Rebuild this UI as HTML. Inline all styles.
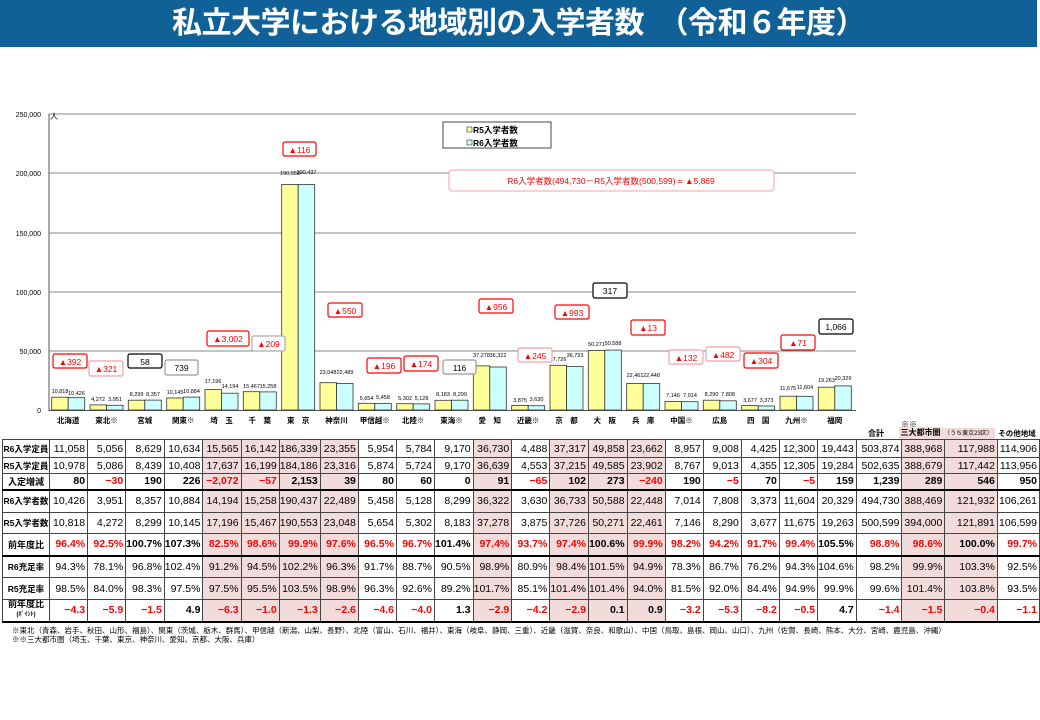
<!DOCTYPE html>
<html><head><meta charset="utf-8"><style>
body{margin:0;width:1040px;height:720px;background:#fff;position:relative;overflow:hidden;font-family:"Liberation Sans","Noto Sans CJK JP",sans-serif}
.title{position:absolute;left:0;top:0;width:1037px;height:47px;background:#0f6198;color:#fff;font-weight:bold;font-size:30px;line-height:47px;text-align:center;font-family:"Liberation Sans","Noto Sans CJK JP",sans-serif;letter-spacing:-0.5px}
table{position:absolute;left:2px;top:439px;border-collapse:collapse;table-layout:fixed;font-size:10.5px}
td{border:1px solid #444;text-align:right;padding:0 2px 0 0;white-space:nowrap;overflow:hidden;color:#000}
td.l{text-align:center;font-size:8.5px;font-weight:bold;padding:0}
tr.t td{border-bottom:2px solid #000}
.p{background:#f2dcdb}
.r{color:#f00}
.b td{font-weight:bold}
.b td.l{font-size:9px}
.hd{position:absolute;font-size:8px;font-weight:bold;text-align:center}
.note{position:absolute;left:12px;font-size:7.5px;color:#000}
</style></head><body>
<div class="title">私立大学における地域別の入学者数　（令和６年度）</div>
<svg width="1040" height="440" style="position:absolute;left:0;top:0" font-family="Liberation Sans, Noto Sans CJK JP, sans-serif">
<g stroke="#888" stroke-width="1">
<line x1="49" y1="114" x2="856" y2="114"/><line x1="49" y1="173" x2="856" y2="173"/><line x1="49" y1="233" x2="856" y2="233"/><line x1="49" y1="292" x2="856" y2="292"/><line x1="49" y1="351" x2="856" y2="351"/>
</g>
<line x1="49" y1="114" x2="49" y2="411" stroke="#555"/>
<line x1="49" y1="410.5" x2="856" y2="410.5" stroke="#555"/>
<g font-size="7" text-anchor="end" fill="#000">
<text x="41" y="117">250,000</text><text x="41" y="176">200,000</text><text x="41" y="236">150,000</text><text x="41" y="295">100,000</text><text x="41" y="354">50,000</text><text x="41" y="413">0</text>
</g>
<text x="50" y="119" font-size="8">人</text>
<g transform="translate(0,410) scale(1,-1)" stroke="#333" stroke-width="0.8">
<g fill="#ffff99">
<rect x="51.7" y="0" width="16.5" height="12.8"/><rect x="90" y="0" width="16.5" height="5.1"/><rect x="128.3" y="0" width="16.5" height="9.8"/><rect x="166.7" y="0" width="16.5" height="12"/><rect x="205" y="0" width="16.5" height="20.4"/><rect x="243.3" y="0" width="16.5" height="18.3"/><rect x="281.7" y="0" width="16.5" height="225.6"/><rect x="320" y="0" width="16.5" height="27.3"/><rect x="358.3" y="0" width="16.5" height="6.7"/><rect x="396.7" y="0" width="16.5" height="6.3"/><rect x="435" y="0" width="16.5" height="9.7"/><rect x="473.3" y="0" width="16.5" height="44.1"/><rect x="511.7" y="0" width="16.5" height="4.6"/><rect x="550" y="0" width="16.5" height="44.7"/><rect x="588.3" y="0" width="16.5" height="59.5"/><rect x="626.7" y="0" width="16.5" height="26.6"/><rect x="665" y="0" width="16.5" height="8.5"/><rect x="703.3" y="0" width="16.5" height="9.8"/><rect x="741.7" y="0" width="16.5" height="4.4"/><rect x="780" y="0" width="16.5" height="13.8"/><rect x="818.3" y="0" width="16.5" height="22.8"/>
</g>
<g fill="#ccffff">
<rect x="68.2" y="0" width="16.5" height="12.3"/><rect x="106.5" y="0" width="16.5" height="4.7"/><rect x="144.8" y="0" width="16.5" height="9.9"/><rect x="183.2" y="0" width="16.5" height="12.9"/><rect x="221.5" y="0" width="16.5" height="16.8"/><rect x="259.8" y="0" width="16.5" height="18.1"/><rect x="298.2" y="0" width="16.5" height="225.5"/><rect x="336.5" y="0" width="16.5" height="26.6"/><rect x="374.8" y="0" width="16.5" height="6.5"/><rect x="413.2" y="0" width="16.5" height="6.1"/><rect x="451.5" y="0" width="16.5" height="9.8"/><rect x="489.8" y="0" width="16.5" height="43"/><rect x="528.2" y="0" width="16.5" height="4.3"/><rect x="566.5" y="0" width="16.5" height="43.5"/><rect x="604.8" y="0" width="16.5" height="59.9"/><rect x="643.2" y="0" width="16.5" height="26.6"/><rect x="681.5" y="0" width="16.5" height="8.3"/><rect x="719.8" y="0" width="16.5" height="9.2"/><rect x="758.2" y="0" width="16.5" height="4"/><rect x="796.5" y="0" width="16.5" height="13.7"/><rect x="834.8" y="0" width="16.5" height="24.1"/>
</g></g>
<g font-size="5.5" text-anchor="middle" fill="#000">
<text x="60" y="393">10,818</text><text x="76.5" y="395">10,426</text>
<text x="98" y="401">4,272</text><text x="115" y="401">3,951</text>
<text x="136.5" y="396">8,299</text><text x="153" y="396">8,357</text>
<text x="175" y="394">10,145</text><text x="191.5" y="393">10,884</text>
<text x="213" y="383">17,196</text><text x="230" y="388">14,194</text>
<text x="251.5" y="388">15,467</text><text x="268" y="388">15,258</text>
<text x="290" y="175">190,553</text><text x="306.5" y="174">190,437</text>
<text x="328" y="374">23,048</text><text x="345" y="374">22,489</text>
<text x="366.5" y="400">5,654</text><text x="383" y="399">5,458</text>
<text x="405" y="400">5,302</text><text x="421.5" y="400">5,128</text>
<text x="443" y="396">8,183</text><text x="460" y="396">8,299</text>
<text x="481.5" y="357">37,278</text><text x="498" y="357">36,322</text>
<text x="520" y="402">3,875</text><text x="536.5" y="401">3,630</text>
<text x="558" y="361">37,726</text><text x="575" y="357">36,733</text>
<text x="596.5" y="346">50,271</text><text x="613" y="345">50,588</text>
<text x="635" y="377">22,461</text><text x="651.5" y="377">22,448</text>
<text x="673" y="397">7,146</text><text x="690" y="397">7,014</text>
<text x="711.5" y="396">8,290</text><text x="728" y="396">7,808</text>
<text x="750" y="402">3,677</text><text x="766.5" y="402">3,373</text>
<text x="788" y="390">11,675</text><text x="805" y="389">11,604</text>
<text x="826.5" y="382">19,263</text><text x="843" y="380">20,329</text>
</g>
<g font-size="7.5" font-weight="bold" text-anchor="middle" fill="#000">
<text x="68.2" y="423">北海道</text><text x="106.5" y="423">東北※</text><text x="144.8" y="423">宮城</text><text x="183.2" y="423">関東※</text><text x="221.5" y="423">埼　玉</text><text x="259.8" y="423">千　葉</text><text x="298.2" y="423">東　京</text><text x="336.5" y="423">神奈川</text><text x="374.8" y="423">甲信越※</text><text x="413.2" y="423">北陸※</text><text x="451.5" y="423">東海※</text><text x="489.8" y="423">愛　知</text><text x="528.2" y="423">近畿※</text><text x="566.5" y="423">京　都</text><text x="604.8" y="423">大　阪</text><text x="643.2" y="423">兵　庫</text><text x="681.5" y="423">中国※</text><text x="719.8" y="423">広島</text><text x="758.2" y="423">四　国</text><text x="796.5" y="423">九州※</text><text x="834.8" y="423">福岡</text>
</g>
<rect x="443" y="122" width="108" height="26" fill="#fff" stroke="#444"/>
<rect x="467" y="127" width="5" height="5" fill="#ffff99" stroke="#333" stroke-width="0.6"/>
<rect x="467" y="140" width="5" height="5" fill="#ccffff" stroke="#333" stroke-width="0.6"/>
<text x="473" y="133" font-size="8.5" font-weight="bold">R5入学者数</text>
<text x="473" y="146" font-size="8.5" font-weight="bold">R6入学者数</text>
<rect x="449" y="170" width="325" height="21" rx="3" fill="#fff" stroke="#f4a0a8"/>
<text x="611" y="184" font-size="8.5" fill="#f00" text-anchor="middle">R6入学者数(494,730－R5入学者数(500,599) = ▲5,869</text>
<g font-size="8.5" text-anchor="middle" fill="#fff" stroke-width="1.2">
<rect x="53" y="354" width="34" height="14" rx="2" stroke="#f00"/>
<rect x="89" y="361" width="34" height="15" rx="2" stroke="#f4a0a8"/>
<rect x="128" y="354" width="34" height="14" rx="2" stroke="#000"/>
<rect x="165" y="360" width="33" height="15" rx="2" stroke="#999"/>
<rect x="207" y="331" width="42" height="15" rx="2" stroke="#f00"/>
<rect x="252" y="336" width="33" height="15" rx="2" stroke="#aaa"/>
<rect x="283" y="142" width="33" height="14" rx="2" stroke="#f00"/>
<rect x="328" y="303" width="34" height="14" rx="2" stroke="#f00"/>
<rect x="367" y="358" width="34" height="15" rx="2" stroke="#f00"/>
<rect x="404" y="356" width="34" height="15" rx="2" stroke="#f00"/>
<rect x="443" y="360" width="33" height="14" rx="2" stroke="#999"/>
<rect x="479" y="299" width="34" height="14" rx="2" stroke="#f00"/>
<rect x="518" y="348" width="34" height="14" rx="2" stroke="#f4a0a8"/>
<rect x="555" y="305" width="34" height="14" rx="2" stroke="#f00"/>
<rect x="593" y="283" width="34" height="15" rx="2" stroke="#000"/>
<rect x="631" y="320" width="34" height="15" rx="2" stroke="#f00"/>
<rect x="669" y="350" width="34" height="14" rx="2" stroke="#f4a0a8"/>
<rect x="706" y="347" width="34" height="14" rx="2" stroke="#f4a0a8"/>
<rect x="744" y="353" width="34" height="15" rx="2" stroke="#f00"/>
<rect x="781" y="335" width="34" height="15" rx="2" stroke="#f00"/>
<rect x="819" y="319" width="34" height="15" rx="2" stroke="#000"/>
</g>
<g font-size="8.5" text-anchor="middle">
<text x="70" y="365" fill="#f00">▲392</text>
<text x="106" y="372" fill="#f00">▲321</text>
<text x="145" y="365">58</text>
<text x="181.5" y="371">739</text>
<text x="228" y="342" fill="#f00">▲3,002</text>
<text x="268.5" y="347" fill="#f00">▲209</text>
<text x="299.5" y="153" fill="#f00">▲116</text>
<text x="345" y="314" fill="#f00">▲550</text>
<text x="384" y="369" fill="#f00">▲196</text>
<text x="421" y="367" fill="#f00">▲174</text>
<text x="459.5" y="371">116</text>
<text x="496" y="310" fill="#f00">▲956</text>
<text x="535" y="359" fill="#f00">▲245</text>
<text x="572" y="316" fill="#f00">▲993</text>
<text x="610" y="294">317</text>
<text x="648" y="331" fill="#f00">▲13</text>
<text x="686" y="361" fill="#f00">▲132</text>
<text x="723" y="358" fill="#f00">▲482</text>
<text x="761" y="364" fill="#f00">▲304</text>
<text x="798" y="346" fill="#f00">▲71</text>
<text x="836" y="330">1,066</text>
</g>
</svg>
<div class="hd" style="left:899px;top:419px;width:20px;font-weight:normal">※※</div>
<div class="hd" style="left:853px;top:428px;width:46px">合計</div>
<div class="hd p" style="left:899px;top:427px;width:43px;height:12px">三大都市圏</div>
<div class="hd p" style="left:942px;top:428px;width:53px;height:11px;font-size:6px;font-weight:normal">（うち東京23区）</div>
<div class="hd" style="left:995px;top:428px;width:44px;font-size:7.5px">その他地域</div>
<table>
<colgroup><col style="width:47px"><col span="21" style="width:38.3px"><col style="width:46px"><col style="width:43px"><col style="width:53px"><col style="width:42px"></colgroup>
<tr style="height:18px"><td class="l">R6入学定員</td><td>11,058</td><td>5,056</td><td>8,629</td><td>10,634</td><td class="p">15,565</td><td class="p">16,142</td><td class="p">186,339</td><td class="p">23,355</td><td>5,954</td><td>5,784</td><td>9,170</td><td class="p">36,730</td><td>4,488</td><td class="p">37,317</td><td class="p">49,858</td><td class="p">23,662</td><td>8,957</td><td>9,008</td><td>4,425</td><td>12,300</td><td>19,443</td><td>503,874</td><td class="p">388,968</td><td class="p">117,988</td><td>114,906</td></tr>
<tr style="height:16px"><td class="l">R5入学定員</td><td>10,978</td><td>5,086</td><td>8,439</td><td>10,408</td><td class="p">17,637</td><td class="p">16,199</td><td class="p">184,186</td><td class="p">23,316</td><td>5,874</td><td>5,724</td><td>9,170</td><td class="p">36,639</td><td>4,553</td><td class="p">37,215</td><td class="p">49,585</td><td class="p">23,902</td><td>8,767</td><td>9,013</td><td>4,355</td><td>12,305</td><td>19,284</td><td>502,635</td><td class="p">388,679</td><td class="p">117,442</td><td>113,956</td></tr>
<tr class="b t" style="height:16px"><td class="l">入定増減</td><td>80</td><td class="r">−30</td><td>190</td><td>226</td><td class="p r">−2,072</td><td class="p r">−57</td><td class="p">2,153</td><td class="p">39</td><td>80</td><td>60</td><td>0</td><td class="p">91</td><td class="r">−65</td><td class="p">102</td><td class="p">273</td><td class="p r">−240</td><td>190</td><td class="r">−5</td><td>70</td><td class="r">−5</td><td>159</td><td>1,239</td><td class="p">289</td><td class="p">546</td><td>950</td></tr>
<tr style="height:23px"><td class="l">R6入学者数</td><td>10,426</td><td>3,951</td><td>8,357</td><td>10,884</td><td class="p">14,194</td><td class="p">15,258</td><td class="p">190,437</td><td class="p">22,489</td><td>5,458</td><td>5,128</td><td>8,299</td><td class="p">36,322</td><td>3,630</td><td class="p">36,733</td><td class="p">50,588</td><td class="p">22,448</td><td>7,014</td><td>7,808</td><td>3,373</td><td>11,604</td><td>20,329</td><td>494,730</td><td class="p">388,469</td><td class="p">121,932</td><td>106,261</td></tr>
<tr style="height:21px"><td class="l">R5入学者数</td><td>10,818</td><td>4,272</td><td>8,299</td><td>10,145</td><td class="p">17,196</td><td class="p">15,467</td><td class="p">190,553</td><td class="p">23,048</td><td>5,654</td><td>5,302</td><td>8,183</td><td class="p">37,278</td><td>3,875</td><td class="p">37,726</td><td class="p">50,271</td><td class="p">22,461</td><td>7,146</td><td>8,290</td><td>3,677</td><td>11,675</td><td>19,263</td><td>500,599</td><td class="p">394,000</td><td class="p">121,891</td><td>106,599</td></tr>
<tr class="b t" style="height:22px"><td class="l">前年度比</td><td class="r">96.4%</td><td class="r">92.5%</td><td>100.7%</td><td>107.3%</td><td class="p r">82.5%</td><td class="p r">98.6%</td><td class="p r">99.9%</td><td class="p r">97.6%</td><td class="r">96.5%</td><td class="r">96.7%</td><td>101.4%</td><td class="p r">97.4%</td><td class="r">93.7%</td><td class="p r">97.4%</td><td class="p">100.6%</td><td class="p r">99.9%</td><td class="r">98.2%</td><td class="r">94.2%</td><td class="r">91.7%</td><td class="r">99.4%</td><td>105.5%</td><td class="r">98.8%</td><td class="p r">98.6%</td><td class="p">100.0%</td><td class="r">99.7%</td></tr>
<tr style="height:22px"><td class="l">R6充足率</td><td>94.3%</td><td>78.1%</td><td>96.8%</td><td>102.4%</td><td class="p">91.2%</td><td class="p">94.5%</td><td class="p">102.2%</td><td class="p">96.3%</td><td>91.7%</td><td>88.7%</td><td>90.5%</td><td class="p">98.9%</td><td>80.9%</td><td class="p">98.4%</td><td class="p">101.5%</td><td class="p">94.9%</td><td>78.3%</td><td>86.7%</td><td>76.2%</td><td>94.3%</td><td>104.6%</td><td>98.2%</td><td class="p">99.9%</td><td class="p">103.3%</td><td>92.5%</td></tr>
<tr style="height:22px"><td class="l">R5充足率</td><td>98.5%</td><td>84.0%</td><td>98.3%</td><td>97.5%</td><td class="p">97.5%</td><td class="p">95.5%</td><td class="p">103.5%</td><td class="p">98.9%</td><td>96.3%</td><td>92.6%</td><td>89.2%</td><td class="p">101.7%</td><td>85.1%</td><td class="p">101.4%</td><td class="p">101.4%</td><td class="p">94.0%</td><td>81.5%</td><td>92.0%</td><td>84.4%</td><td>94.9%</td><td>99.9%</td><td>99.6%</td><td class="p">101.4%</td><td class="p">103.8%</td><td>93.5%</td></tr>
<tr class="b" style="height:22px;border-bottom:2px solid #000"><td class="l" style="line-height:9px">前年度比<br><span style="font-size:6px">(ﾎﾟｲﾝﾄ)</span></td><td class="r">−4.3</td><td class="r">−5.9</td><td class="r">−1.5</td><td>4.9</td><td class="p r">−6.3</td><td class="p r">−1.0</td><td class="p r">−1.3</td><td class="p r">−2.6</td><td class="r">−4.6</td><td class="r">−4.0</td><td>1.3</td><td class="p r">−2.9</td><td class="r">−4.2</td><td class="p r">−2.9</td><td class="p">0.1</td><td class="p">0.9</td><td class="r">−3.2</td><td class="r">−5.3</td><td class="r">−8.2</td><td class="r">−0.5</td><td>4.7</td><td class="r">−1.4</td><td class="p r">−1.5</td><td class="p r">−0.4</td><td class="r">−1.1</td></tr>
</table>
<div class="note" style="top:625px">※東北（青森、岩手、秋田、山形、福島）、関東（茨城、栃木、群馬）、甲信越（新潟、山梨、長野）、北陸（富山、石川、福井）、東海（岐阜、静岡、三重）、近畿（滋賀、奈良、和歌山）、中国（鳥取、島根、岡山、山口）、九州（佐賀、長崎、熊本、大分、宮崎、鹿児島、沖縄）</div>
<div class="note" style="top:634px">※※三大都市圏（埼玉、千葉、東京、神奈川、愛知、京都、大阪、兵庫）</div>
</body></html>
